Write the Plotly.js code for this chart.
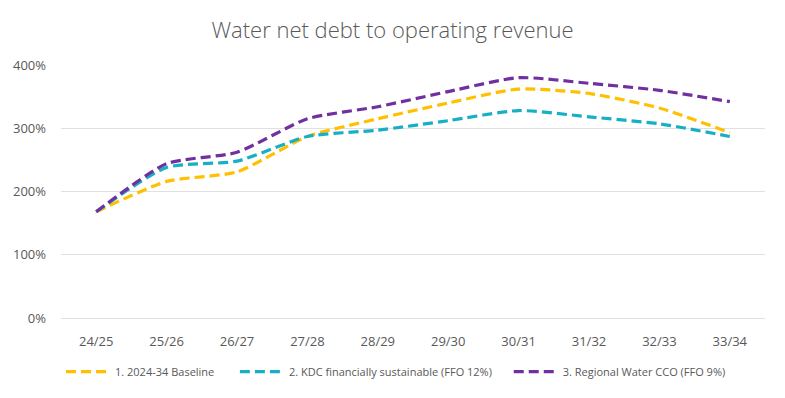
<!DOCTYPE html>
<html>
<head>
<meta charset="utf-8">
<script src="https://cdn.plot.ly/plotly-3.0.1.min.js"></script>
<style>html,body{margin:0;padding:0;background:#fff;}#chart{width:785px;height:398px;}</style>
</head>
<body>
<div id="chart"></div>
<script>
const categories = ["24/25","25/26","26/27","27/28","28/29","29/30","30/31","31/32","32/33","33/34"];
const baseline = [168, 216, 231, 287, 315, 340, 362, 355, 332, 293];
const kdcSustainable = [168, 238, 248, 287, 297, 312, 328, 318, 307, 287];
const regionalCCO = [168, 244, 262, 315, 334, 358, 380, 371, 360, 342];
const seriesNames = ["1. 2024-34 Baseline", "2. KDC financially sustainable (FFO 12%)", "3. Regional Water CCO (FFO 9%)"];
const seriesColors = ["#FFC000", "#17AFC6", "#7030A0"];
const yTicks = [0, 100, 200, 300, 400];
const yTickLabels = ["0%", "100%", "200%", "300%", "400%"];

const legendIds = ["legend", "legend2", "legend3"];
const legendX = [0.0, 0.247, 0.636];

const allSeries = [baseline, kdcSustainable, regionalCCO];
const traces = allSeries.map((vals, i) => ({
  x: categories,
  y: vals,
  name: seriesNames[i],
  legend: legendIds[i],
  type: "scatter",
  mode: "lines",
  line: {color: seriesColors[i], width: 3.2, dash: "10px,5px", shape: "spline", smoothing: 0.6},
  hoverinfo: "x+y+name"
}));

const layout = {
  width: 785, height: 398,
  paper_bgcolor: "#ffffff", plot_bgcolor: "#ffffff",
  margin: {l: 61, r: 20, t: 65, b: 77},
  title: {text: "Water net debt to operating revenue", x: 0.5, xanchor: "center", y: 0.925, yanchor: "middle",
          font: {family: "Open Sans, DejaVu Sans, sans-serif", size: 22, color: "#595959", weight: 300}},
  font: {family: "Open Sans, DejaVu Sans, sans-serif", color: "#595959"},
  xaxis: {type: "category", range: [-0.5, 9.5], showgrid: false, zeroline: false, showline: false,
          ticks: "", tickfont: {size: 13, color: "#595959"}, ticklabelstandoff: 14, fixedrange: true},
  yaxis: {range: [0, 400], tickvals: yTicks, ticktext: yTickLabels, showgrid: true, gridcolor: "#E0E0E0", gridwidth: 1,
          zeroline: true, zerolinecolor: "#E0E0E0", zerolinewidth: 1, showline: false, ticks: "",
          tickfont: {size: 13, color: "#595959"}, ticklabelstandoff: 14, fixedrange: true},
  showlegend: true
};
legendIds.forEach((id, i) => {
  layout[id] = {orientation: "h", x: legendX[i], xanchor: "left", y: -0.212, yanchor: "middle",
                font: {size: 11, color: "#595959"}, itemwidth: 44, bgcolor: "rgba(0,0,0,0)"};
});

Plotly.newPlot("chart", traces, layout, {displayModeBar: false, staticPlot: true});
</script>
</body>
</html>
